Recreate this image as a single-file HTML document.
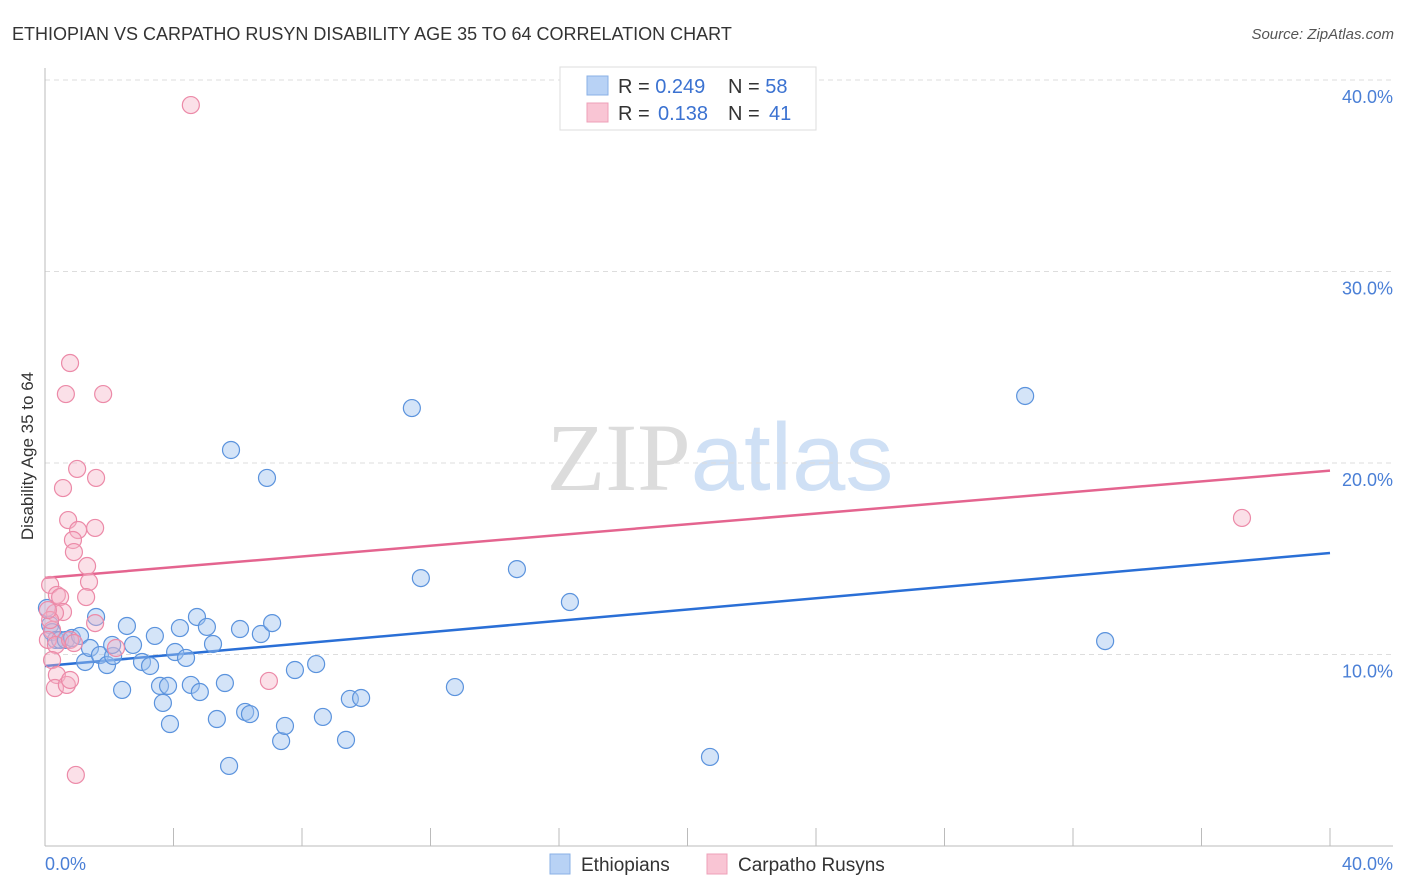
<!DOCTYPE html>
<html><head><meta charset="utf-8">
<style>
body{margin:0;background:#fff;font-family:"Liberation Sans",sans-serif;}
svg{display:block}
</style></head>
<body>
<svg id="chart" width="1406" height="892" xmlns="http://www.w3.org/2000/svg">
<text x="12" y="40" font-size="18" fill="#333">ETHIOPIAN VS CARPATHO RUSYN DISABILITY AGE 35 TO 64 CORRELATION CHART</text>
<text x="1394" y="39" font-size="15" fill="#555" font-style="italic" text-anchor="end">Source: ZipAtlas.com</text>
<text x="720" y="490" font-size="96" text-anchor="middle" font-family="Liberation Serif,serif"><tspan fill="#dcdcdc">ZIP</tspan><tspan fill="#cfe0f5" font-family="Liberation Sans,sans-serif">atlas</tspan></text>
<g id="grid"></g>
<line x1="45" y1="68" x2="45" y2="846" stroke="#bbb"/>
<line x1="45" y1="846" x2="1393" y2="846" stroke="#bbb"/>
<g id="ticks"></g>
<text transform="translate(33,456) rotate(-90)" font-size="17" fill="#333" text-anchor="middle">Disability Age 35 to 64</text>
<text x="45" y="870" font-size="18" fill="#4a7fd6">0.0%</text>
<text x="1393" y="870" font-size="18" fill="#4a7fd6" text-anchor="end">40.0%</text>
<g id="trend"></g>
<g id="points"></g>
<g>
<rect x="560" y="67" width="256" height="63" fill="#fff" stroke="#ddd"/>
<rect x="587" y="76" width="21" height="19" fill="#b8d2f5" stroke="#8ab0e6"/>
<rect x="587" y="103" width="21" height="19" fill="#f9c5d4" stroke="#eea0b8"/>
<text x="618" y="93" font-size="20" fill="#333">R = <tspan fill="#3b72d1">0.249</tspan><tspan x="728">N = </tspan><tspan fill="#3b72d1">58</tspan></text>
<text x="618" y="120" font-size="20" fill="#333">R = <tspan fill="#3b72d1" x="658">0.138</tspan><tspan x="728">N = </tspan><tspan fill="#3b72d1" x="769">41</tspan></text>
</g>
<g>
<rect x="550" y="854" width="20" height="20" fill="#b8d2f5" stroke="#8ab0e6"/>
<text x="581" y="871" font-size="19" fill="#333">Ethiopians</text>
<rect x="707" y="854" width="20" height="20" fill="#f9c5d4" stroke="#eea0b8"/>
<text x="738" y="871" font-size="19" fill="#333">Carpatho Rusyns</text>
</g>
</svg>
<script>
const yTicks=[10,20,30,40];
const yTickLabels=["10.0%","20.0%","30.0%","40.0%"];
const xTicks=[0,4,8,12,16,20,24,28,32,36,40];
const blueX=[0.06,0.16,0.22,0.34,0.47,0.65,0.84,1.09,1.25,1.40,1.59,1.71,1.93,2.12,2.09,2.40,2.55,2.74,3.02,3.27,3.42,3.58,3.67,3.83,3.89,4.05,4.20,4.39,4.54,4.73,4.82,5.04,5.23,5.35,5.60,5.73,5.79,6.07,6.23,6.38,6.72,6.91,7.07,7.35,7.47,7.78,8.44,8.65,9.37,9.49,9.84,11.42,11.70,12.76,14.69,16.34,20.70,30.51,33.00];
const blueY=[12.43,11.54,11.17,10.76,10.76,10.76,10.86,10.97,9.61,10.34,11.96,9.97,9.45,9.92,10.50,8.15,11.49,10.50,9.61,9.40,10.97,8.36,7.47,8.36,6.37,10.13,11.38,9.82,8.41,11.96,8.04,11.44,10.55,6.63,8.51,4.18,20.68,11.33,7.00,6.89,11.07,19.22,11.64,5.48,6.27,9.19,9.50,6.74,5.54,7.68,7.73,22.87,13.99,8.30,14.46,12.74,4.65,23.50,10.70];
const pinkX=[4.54,0.78,0.65,1.81,1.00,0.56,1.59,0.72,1.56,1.03,0.87,0.90,1.31,1.37,1.28,0.16,0.37,0.47,0.56,0.31,0.22,0.09,0.34,0.78,0.90,1.56,2.21,0.22,0.37,0.31,0.68,0.78,0.96,6.97,37.26,0.16,0.09];
const pinkY=[38.69,25.22,23.60,23.60,19.69,18.69,19.22,17.02,16.61,16.50,15.98,15.35,14.62,13.79,13.00,13.63,13.11,13.00,12.22,12.17,11.28,10.76,10.50,10.76,10.60,11.64,10.34,9.71,8.93,8.25,8.41,8.67,3.71,8.62,17.13,11.80,12.32];
const blueTrend=[[0,9.4],[40,15.3]];
const pinkTrend=[[0,14.0],[40,19.6]];

const NS="http://www.w3.org/2000/svg";
function sx(v){return 45+v*32.125;}
function sy(v){return 846-v*19.15;}
function mk(tag,attrs,parent){const e=document.createElementNS(NS,tag);for(const k in attrs)e.setAttribute(k,attrs[k]);parent.appendChild(e);return e;}
const grid=document.getElementById('grid');
yTicks.forEach((t,i)=>{
  const l=mk('line',{x1:45,x2:1393,y1:sy(t),y2:sy(t),stroke:'#ddd','stroke-dasharray':'5,4'},grid);
  
  
  const tx=mk('text',{x:1393,y:sy(t)+23,'font-size':18,fill:'#4a7fd6','text-anchor':'end'},grid);
  tx.textContent=yTickLabels[i];
  
  
});
const ticks=document.getElementById('ticks');
xTicks.forEach(t=>{
  const l=mk('line',{x1:sx(t),x2:sx(t),y1:828,y2:846,stroke:'#bbb'},ticks);
  
  
});
const pts=document.getElementById('points');
blueX.forEach((x,i)=>{
  const c=mk('circle',{cx:sx(x),cy:sy(blueY[i]),r:8.5,fill:'rgba(160,196,240,0.45)',stroke:'#5b93dd','stroke-width':1.2},pts);
  
  
});
pinkX.forEach((x,i)=>{
  const c=mk('circle',{cx:sx(x),cy:sy(pinkY[i]),r:8.5,fill:'rgba(246,178,198,0.4)',stroke:'#ec8aa8','stroke-width':1.2},pts);
  
  
});
const tr=document.getElementById('trend');
const bt=mk('line',{x1:sx(blueTrend[0][0]),y1:sy(blueTrend[0][1]),x2:sx(blueTrend[1][0]),y2:sy(blueTrend[1][1]),stroke:'#2a6fd6','stroke-width':2.5},tr);


const pt=mk('line',{x1:sx(pinkTrend[0][0]),y1:sy(pinkTrend[0][1]),x2:sx(pinkTrend[1][0]),y2:sy(pinkTrend[1][1]),stroke:'#e4648f','stroke-width':2.5},tr);


</script>
</body></html>
